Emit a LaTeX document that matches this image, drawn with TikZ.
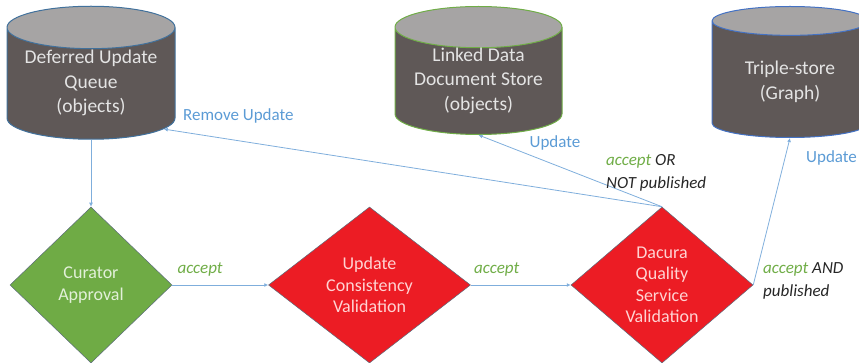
\documentclass[tikz,border=0pt]{standalone}
\usepackage{fontspec}
\setmainfont{Carlito}
\usepackage{tikz}
\usetikzlibrary{arrows.meta,positioning,shapes.geometric}
\definecolor{storebody}{HTML}{5F5857}
\definecolor{storetop}{HTML}{A6A4A4}
\definecolor{storetext}{HTML}{E4E4E4}
\definecolor{queueline}{HTML}{41719C}
\definecolor{docline}{HTML}{70AD47}
\definecolor{tripleline}{HTML}{4472C4}
\definecolor{checkgreen}{HTML}{6FAB45}
\definecolor{checkred}{HTML}{EC1C24}
\definecolor{checkline}{HTML}{5B6B7B}
\definecolor{greentext}{HTML}{E2F0D9}
\definecolor{redtext}{HTML}{FFD3D3}
\definecolor{flowblue}{HTML}{7FAEDC}
\definecolor{labelblue}{HTML}{5B9BD5}
\definecolor{labelgreen}{HTML}{70AD47}
\definecolor{labeldark}{HTML}{262626}
\tikzset{
  store/.style={cylinder, shape border rotate=90, aspect=0.32, cylinder uses custom fill, cylinder body fill=storebody, cylinder end fill=storetop, line width=1pt, text=storetext, font=\fontsize{19.5}{24.5}\selectfont, inner sep=0pt},
  check/.style={diamond, draw=checkline, line width=0.5pt, align=center, font=\fontsize{18}{21.5}\selectfont, inner sep=0pt, aspect=1.15, minimum height=156pt},
  flow/.style={-{Latex[length=4pt,width=4pt]}, line width=0.8pt, draw=flowblue},
  flowlabel/.style={font=\fontsize{17}{22.5}\selectfont\itshape, align=left, inner sep=0pt},
  bluelabel/.style={font=\fontsize{17}{22}\selectfont, text=labelblue, inner sep=0pt}
}
\newcommand{\acc}{\textcolor{labelgreen}{accept}}
% store text takes no room, so the cylinder size comes from the style
\newcommand{\storelines}[2][5pt]{\smash{\raisebox{-#1}{\begin{tabular}{@{}c@{}}#2\end{tabular}}}}
\begin{document}
\begin{tikzpicture}[x=1pt, y=1pt]
  \useasboundingbox (0,0) rectangle (859,-363);
  % decisions
  \node[check, fill=checkgreen, text=greentext, minimum width=162pt] (curator) at (91,-285) {Curator\\Approval};
  \node[check, fill=checkred, text=redtext, minimum width=202pt, right=96pt of curator] (consistency) {Update\\Consistency\\Validation};
  \node[check, fill=checkred, text=redtext, minimum width=182pt, right=100pt of consistency] (quality) {Dacura\\Quality\\Service\\Validation};
  % stores
  \node[store, draw=queueline, minimum width=168pt, minimum height=133pt, above=67pt of curator] (queue) {\storelines{Deferred Update\\Queue\\(objects)}};
  \node[store, draw=docline, minimum width=167pt, minimum height=128pt, anchor=south] (docstore) at (478.5,-135) {\storelines{Linked Data\\Document Store\\(objects)}};
  \node[store, draw=tripleline, minimum width=156pt, minimum height=131pt, anchor=south] (triplestore) at (790,-138) {\storelines[8pt]{Triple-store\\(Graph)}};
  % flows
  \draw[flow] (queue.south) -- (curator.north);
  \draw[flow] (curator.east) -- node[flowlabel, pos=0.29, above=8pt] {\acc} (consistency.west);
  \draw[flow] (consistency.east) -- node[flowlabel, pos=0.26, above=8pt] {\acc} (quality.west);
  \draw[flow] (quality.north) -- (queue.-32);
  \draw[flow] (quality.north) -- (docstore.south);
  \draw[flow] (quality.east) -- (triplestore.south);
  % labels
  \node[bluelabel, anchor=west] (removelabel) at (183,-116) {Remove Update};
  \node[bluelabel] (doclabel) at (555,-143) {Update};
  \node[bluelabel, anchor=west] (triplelabel) at (806,-158) {Update};
  \node[flowlabel, anchor=west, text=labeldark] (orlabel) at (606,-173) {\acc{} OR\\NOT published};
  \node[flowlabel, anchor=west, text=labeldark] (andlabel) at (763,-281) {\acc{} AND\\published};
\end{tikzpicture}
\end{document}
